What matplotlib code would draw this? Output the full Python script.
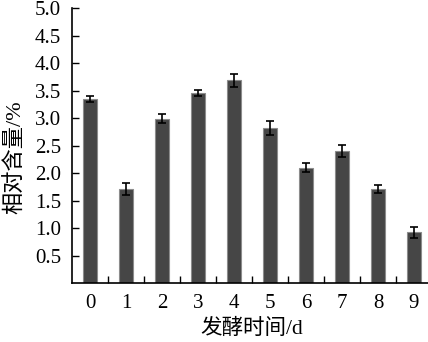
import matplotlib
matplotlib.use("Agg")
import matplotlib.pyplot as plt
import numpy as np

days = ["0", "1", "2", "3", "4", "5", "6", "7", "8", "9"]
values = [3.35, 1.72, 2.99, 3.46, 3.69, 2.82, 2.10, 2.41, 1.72, 0.93]
errors = [0.06, 0.11, 0.08, 0.05, 0.12, 0.13, 0.08, 0.11, 0.07, 0.10]
yticks = [0.5, 1.0, 1.5, 2.0, 2.5, 3.0, 3.5, 4.0, 4.5, 5.0]
xlabel = "发酵时间/d"
ylabel = "相对含量/%"

plt.rcParams['font.family'] = ['Liberation Serif', 'Noto Sans CJK SC']

fig = plt.figure(figsize=(4.28, 3.42), dpi=100)
ax = fig.add_axes([72/428, 58.7/342, 360/428, 275/342])

x = np.arange(len(days))
ax.bar(x, values, width=0.39, color='#464646', edgecolor='#8c8c8c', linewidth=0.8,
       yerr=errors, error_kw=dict(ecolor='black', elinewidth=1.2, capsize=2.6, capthick=1.2))

ax.set_xlim(-0.5, len(days) - 0.5)
ax.set_ylim(0, 5.0)
ax.set_yticks(yticks)
ax.set_yticklabels([f"{v:.1f}" for v in yticks])
ax.set_xticks(x)
ax.set_xticklabels(days)
ax.set_xticks(np.arange(0.5, len(days) - 0.5, 1.0), minor=True)

ax.tick_params(axis='y', direction='in', length=5, width=1, labelsize=15, pad=8)
ax.tick_params(axis='x', which='major', length=0, labelsize=15, pad=8)
ax.tick_params(axis='x', which='minor', direction='in', length=5, width=1)

for s in ['top', 'right']:
    ax.spines[s].set_visible(False)
for s in ['left', 'bottom']:
    ax.spines[s].set_linewidth(1.2)

ax.set_xlabel(xlabel, fontsize=15.5, labelpad=4)
ax.set_ylabel(ylabel, fontsize=16)
ax.yaxis.set_label_coords(-0.128, 0.457)

fig.savefig("out.png", dpi=100)
